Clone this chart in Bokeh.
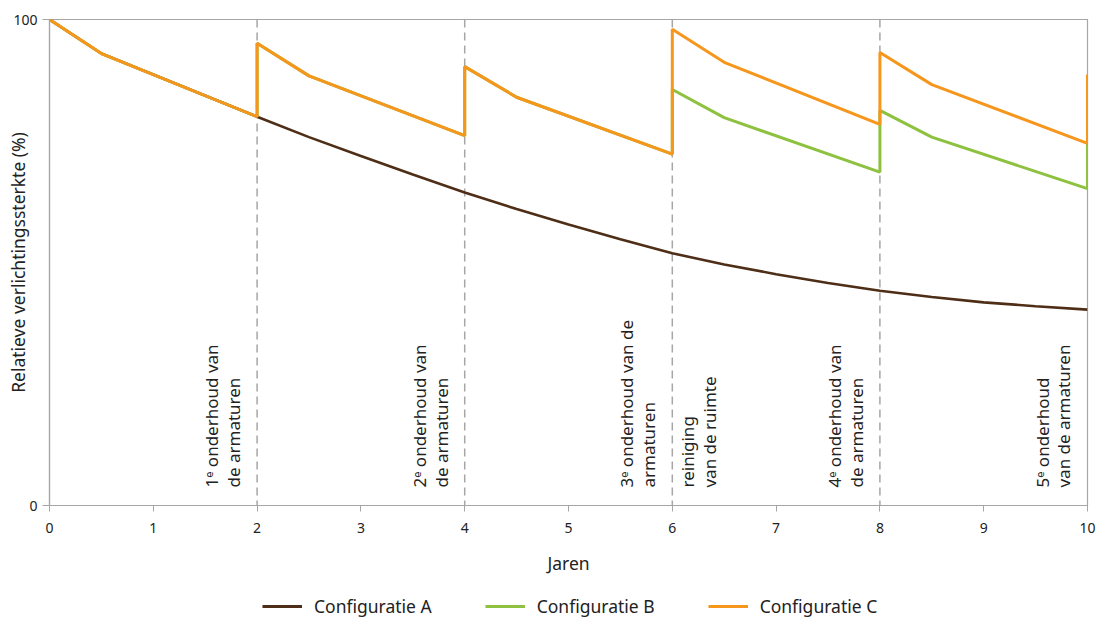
import math
from bokeh.plotting import figure
from bokeh.layouts import column
from bokeh.models import Range1d, Span, Legend, LegendItem, FixedTicker, ColumnDataSource
from bokeh.core.properties import value
from bokeh.embed import file_html
from bokeh.resources import INLINE

# ---- data ----
years_a = [0, 0.5, 2, 2.5, 3, 3.5, 4, 4.5, 5, 5.5, 6, 6.5, 7, 7.5, 8, 8.5, 9, 9.5, 10]
config_a = [100, 93.0, 80.0, 75.8, 71.9, 68.1, 64.4, 61.0, 57.8, 54.8, 51.9,
            49.6, 47.6, 45.8, 44.2, 42.9, 41.8, 41.0, 40.3]

years_bc = [0, 0.5, 2, 2, 2.5, 4, 4, 4.5, 6, 6, 6.5, 8, 8, 8.5, 10, 10]
config_b = [100, 93.0, 80.0, 95.1, 88.4, 76.1, 90.3, 84.0, 72.3, 85.6, 79.8,
            68.6, 81.3, 75.8, 65.2, 77.6]
config_c = [100, 93.0, 80.0, 95.1, 88.4, 76.1, 90.3, 84.0, 72.3, 98.0, 91.2,
            78.4, 93.2, 86.6, 74.5, 88.7]

maintenance_years = [2, 4, 6, 8]
x_ticks = list(range(0, 11))
y_ticks = [0, 100]

label_x = [2, 4, 6, 8, 10]
label_texts = ["1ᵉ onderhoud van\nde armaturen",
               "2ᵉ onderhoud van\nde armaturen",
               "3ᵉ onderhoud van de\narmaturen",
               "4ᵉ onderhoud van\nde armaturen",
               "5ᵉ onderhoud\nvan de armaturen"]
right_label_x = [6]
right_label_texts = ["reiniging\nvan de ruimte"]

series_names = ["Configuratie A", "Configuratie B", "Configuratie C"]
colors = ["#4e2e17", "#8dc13f", "#f7961d"]

FONT = "Noto Sans"
GREY = "#a6a6a6"
TXT = "#222222"

p = figure(width=1099, height=580, x_range=Range1d(0, 10), y_range=Range1d(0, 100),
           output_backend="svg", toolbar_location=None,
           min_border_left=49, min_border_right=12, min_border_top=19, min_border_bottom=75)
p.background_fill_color = "white"
p.outline_line_color = GREY
p.outline_line_width = 1.2
p.xgrid.visible = False
p.ygrid.visible = False

# axes
p.xaxis.ticker = FixedTicker(ticks=x_ticks)
p.yaxis.ticker = FixedTicker(ticks=y_ticks)
for ax in (p.xaxis[0], p.yaxis[0]):
    ax.axis_line_color = GREY
    ax.axis_line_width = 1.2
    ax.major_tick_line_color = GREY
    ax.major_tick_in = 0
    ax.minor_tick_line_color = None
    ax.major_label_text_font = FONT
    ax.major_label_text_color = TXT
    ax.major_label_text_font_size = "14px"
    ax.axis_label_text_font = FONT
    ax.axis_label_text_font_size = "17.5px"
    ax.axis_label_text_font_style = "normal"
    ax.axis_label_text_color = TXT
p.xaxis.major_tick_out = 6
p.xaxis.major_label_standoff = 11
p.xaxis.axis_label = "Jaren"
p.xaxis.axis_label_standoff = 15
p.yaxis.major_tick_out = 7
p.yaxis.major_label_standoff = 5
p.yaxis.axis_label = "Relatieve verlichtingssterkte (%)"
p.yaxis.axis_label_standoff = -20

# maintenance lines
for yr in maintenance_years:
    p.add_layout(Span(location=yr, dimension="height", line_color=GREY,
                      line_width=1.5, line_dash="8 5", level="underlay"))

# series
p.line(years_a, config_a, line_color=colors[0], line_width=2.6)
p.line(years_bc, config_b, line_color=colors[1], line_width=3)
p.line(years_bc, config_c, line_color=colors[2], line_width=3)

# annotations
src_l = ColumnDataSource(dict(x=label_x, y=[3.7] * len(label_x), t=label_texts))
p.text(x="x", y="y", text="t", source=src_l, angle=math.pi / 2, x_offset=-12,
       text_align="left", text_baseline="bottom", text_font=value(FONT),
       text_font_size="17px", text_color=TXT, text_line_height=0.95)
src_r = ColumnDataSource(dict(x=right_label_x, y=[3.7], t=right_label_texts))
p.text(x="x", y="y", text="t", source=src_r, angle=math.pi / 2, x_offset=4,
       text_align="left", text_baseline="top", text_font=value(FONT),
       text_font_size="17px", text_color=TXT, text_line_height=0.95)

# legend strip
p2 = figure(width=1099, height=38, x_range=Range1d(0, 1), y_range=Range1d(0, 1),
            output_backend="svg", toolbar_location=None,
            x_axis_location=None, y_axis_location=None, min_border=0,
            min_border_left=0, min_border_right=0, min_border_top=0, min_border_bottom=0)
p2.outline_line_color = None
p2.xgrid.visible = False
p2.ygrid.visible = False
dummy = ColumnDataSource(dict(x=[-10, -9], y=[-10, -10]))
items = []
for name, col in zip(series_names, colors):
    r = p2.line("x", "y", source=dummy, line_color=col, line_width=3)
    items.append(LegendItem(label=name, renderers=[r]))
legend = Legend(items=items, orientation="horizontal", location=(213, 0),
                border_line_color=None, background_fill_alpha=0,
                padding=0, margin=0, spacing=53, glyph_width=40, glyph_height=20,
                label_standoff=12, label_text_font=FONT, label_text_font_size="17.5px",
                label_text_color=TXT)
p2.add_layout(legend)

open("out.html", "w").write(file_html(column(p, p2, spacing=0), INLINE))
